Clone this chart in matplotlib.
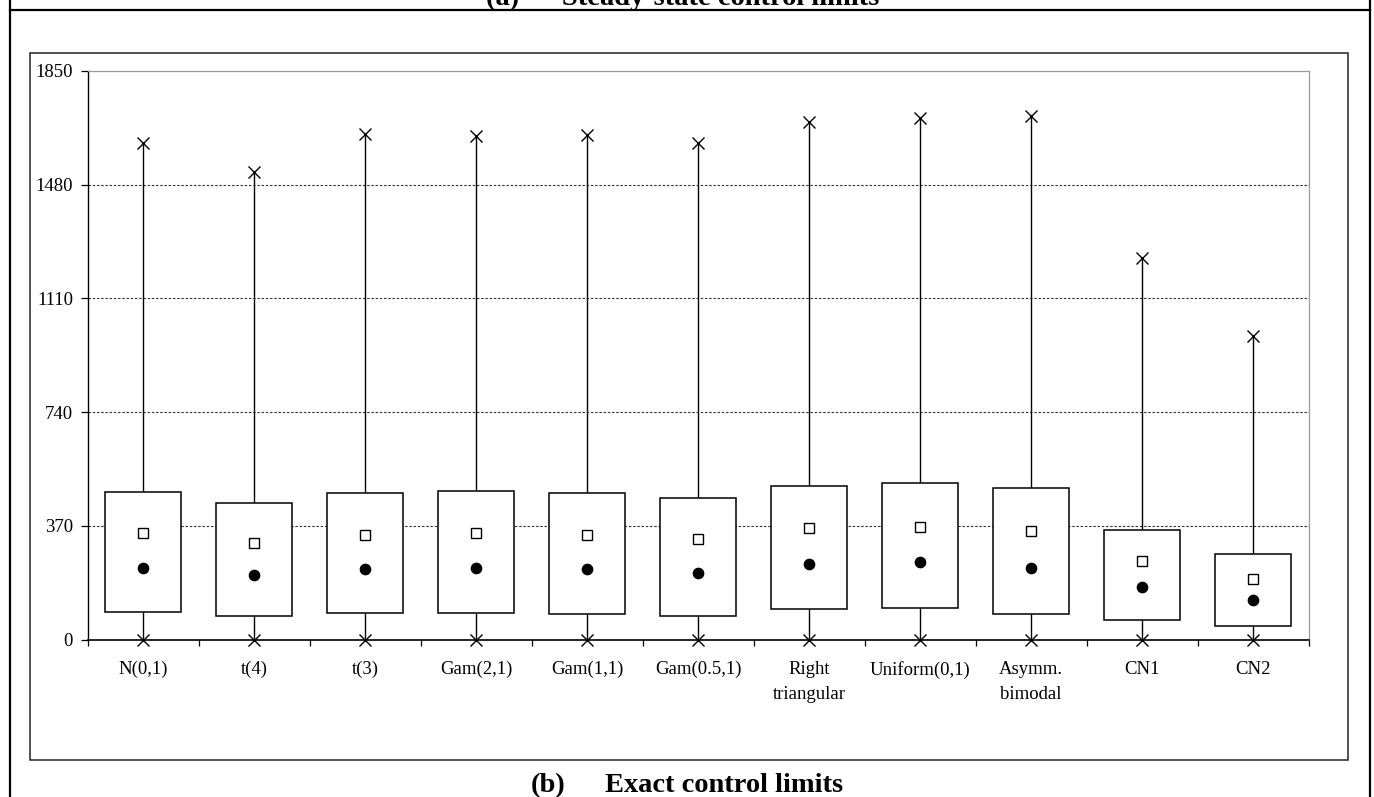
import matplotlib
matplotlib.use("Agg")
import matplotlib.pyplot as plt
from matplotlib.patches import Rectangle
from matplotlib.lines import Line2D

# ---- data ----
categories = ["N(0,1)", "t(4)", "t(3)", "Gam(2,1)", "Gam(1,1)", "Gam(0.5,1)",
              "Right\ntriangular", "Uniform(0,1)", "Asymm.\nbimodal", "CN1", "CN2"]
max_vals = [1615, 1522, 1645, 1638, 1642, 1615, 1683, 1697, 1705, 1242, 987]
q3_vals = [479, 443, 476, 483, 477, 459, 501, 508, 494, 357, 279]
mean_vals = [345, 315, 341, 345, 341, 328, 363, 366, 352, 256, 198]
median_vals = [232, 211, 228, 232, 228, 218, 246, 252, 232, 171, 129]
q1_vals = [90, 77, 87, 87, 83, 77, 100, 103, 83, 62, 45]
min_vals = [0, 0, 0, 0, 0, 0, 0, 0, 0, 0, 0]
yticks = [0, 370, 740, 1110, 1480, 1850]

W, H = 1374, 797
plt.rcParams['font.family'] = ['Liberation Serif', 'DejaVu Serif']

fig = plt.figure(figsize=(W / 100, H / 100), dpi=100)
fig.patch.set_facecolor('white')

# outer frame lines (table cell)
fig.add_artist(Line2D([10 / W, 10 / W], [0, 1], transform=fig.transFigure, color='black', lw=1.6))
fig.add_artist(Line2D([1370 / W, 1370 / W], [0, 1], transform=fig.transFigure, color='black', lw=1.6))
fig.add_artist(Line2D([10 / W, 1370 / W], [1 - 10 / H, 1 - 10 / H], transform=fig.transFigure, color='black', lw=1.6))

# chart area border
fig.add_artist(Rectangle((30 / W, 1 - 760 / H), (1348 - 30) / W, (760 - 53) / H,
                         transform=fig.transFigure, fill=False, ec='#222222', lw=1.1))

ax = fig.add_axes([87.5 / W, (H - 639.5) / H, (1308.5 - 87.5) / W, (639.5 - 71) / H])
ax.set_facecolor('white')

x = list(range(len(categories)))
ax.set_xlim(-0.5, len(categories) - 0.5)
ax.set_ylim(0, 1850)

# grid
for yv in yticks[1:-1]:
    ax.axhline(yv, color='#333333', lw=0.8, linestyle=(0, (2.2, 1.6)), zorder=0)

# whiskers
ax.vlines(x, q3_vals, max_vals, color='black', lw=1.0, zorder=2)
ax.vlines(x, min_vals, q1_vals, color='black', lw=1.0, zorder=2)

# boxes
heights = [a - b for a, b in zip(q3_vals, q1_vals)]
ax.bar(x, heights, bottom=q1_vals, width=0.69, facecolor='white', edgecolor='black',
       linewidth=1.1, zorder=3)

# markers
ax.plot(x, max_vals, linestyle='none', marker='x', ms=8.5, mew=1.0, color='black', zorder=5, clip_on=False)
ax.plot(x, min_vals, linestyle='none', marker='x', ms=8.5, mew=1.0, color='black', zorder=5, clip_on=False)
ax.plot(x, mean_vals, linestyle='none', marker='s', ms=7.2, mew=1.0, mfc='white', mec='black', zorder=5)
ax.plot(x, median_vals, linestyle='none', marker='o', ms=7.4, color='black', zorder=5)

# spines
for s in ['top', 'right']:
    ax.spines[s].set_color('#9a9a9a')
    ax.spines[s].set_linewidth(0.9)
ax.spines['left'].set_linewidth(1.0)
ax.spines['bottom'].set_linewidth(1.2)
ax.spines['bottom'].set_zorder(4)

# ticks
ax.set_yticks(yticks)
ax.set_yticklabels([str(v) for v in yticks])
ax.tick_params(axis='y', direction='out', length=5, width=0.9, pad=5.5, labelsize=13.5)
ax.set_xticks(x)
ax.set_xticklabels(categories, linespacing=1.65)
ax.tick_params(axis='x', which='major', length=0, pad=15.5, labelsize=13.5)
ax.set_xticks([i - 0.5 for i in range(len(categories) + 1)], minor=True)
ax.tick_params(axis='x', which='minor', direction='out', length=4.5, width=0.9)

# panel captions
fig.text(683 / W, 1 - 5 / H, "(a)      Steady-state control limits", ha='center', va='baseline',
         fontsize=20.5, fontweight='bold')
fig.text(548 / W, 1 - 792 / H, "(b)", ha='center', va='baseline', fontsize=20.5, fontweight='bold')
fig.text(605 / W, 1 - 792 / H, "Exact control limits", ha='left', va='baseline',
         fontsize=20.5, fontweight='bold')

fig.savefig('out.png', dpi=100, facecolor='white')
